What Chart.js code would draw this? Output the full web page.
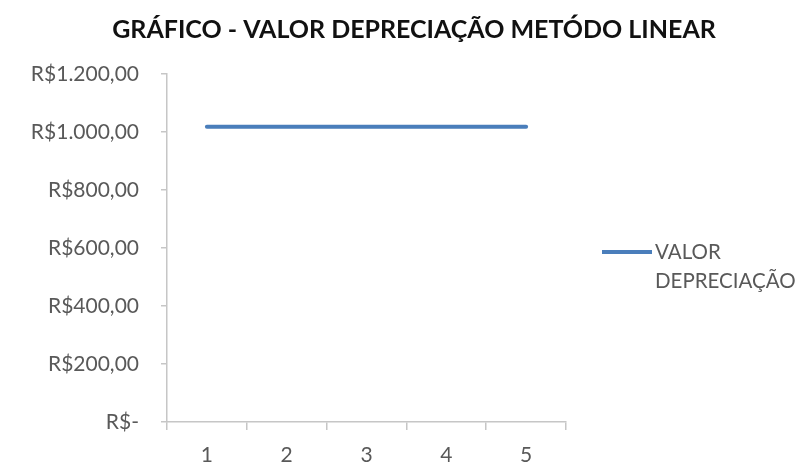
<!DOCTYPE html>
<html>
<head>
<meta charset="utf-8">
<script src="https://cdn.jsdelivr.net/npm/chart.js@4/dist/chart.umd.min.js"></script>
<style>
  html, body { margin: 0; padding: 0; background: #ffffff; }
  #wrap { width: 806px; height: 474px; }
</style>
</head>
<body>
<div id="wrap"><canvas id="c" width="806" height="474"></canvas></div>
<script>
// Periods of the straight-line schedule and the yearly depreciation amount
const periods = ['1', '2', '3', '4', '5'];
const depreciationValues = [1018, 1018, 1018, 1018, 1018];
const seriesLabel = ['VALOR', 'DEPRECIAÇÃO'];
const chartTitle = 'GRÁFICO - VALOR DEPRECIAÇÃO METÓDO LINEAR';

const LINE_COLOR = '#4a7ebb';
const AXIS_COLOR = '#c6c6c6';
const TEXT_COLOR = '#595959';
const FONT = 'Lato, "Open Sans", sans-serif';

// Brazilian currency style: R$1.200,00 and R$- for zero
function brl(v) {
  if (v === 0) return 'R$-';
  const parts = v.toFixed(2).split('.');
  const int = parts[0].replace(/\B(?=(\d{3})+(?!\d))/g, '.');
  return 'R$' + int + ',' + parts[1];
}

// Title centred across the whole canvas
const pageTitle = {
  id: 'pageTitle',
  afterDraw(chart) {
    const ctx = chart.ctx;
    ctx.save();
    ctx.fillStyle = '#111111';
    ctx.font = 'bold 25px ' + FONT;
    ctx.textAlign = 'center';
    ctx.textBaseline = 'middle';
    ctx.fillText(chartTitle, 414, 30);
    ctx.restore();
  }
};

// Legend at the right, with the label wrapped onto two lines
const sideLegend = {
  id: 'sideLegend',
  afterDraw(chart) {
    const ctx = chart.ctx;
    const area = chart.chartArea;
    const ds = chart.data.datasets[0];
    const x0 = area.right + 36;
    const y0 = 252;
    ctx.save();
    ctx.strokeStyle = ds.borderColor;
    ctx.lineWidth = 4;
    ctx.lineCap = 'butt';
    ctx.beginPath();
    ctx.moveTo(x0, y0);
    ctx.lineTo(x0 + 50, y0);
    ctx.stroke();
    ctx.fillStyle = TEXT_COLOR;
    ctx.font = '20.5px ' + FONT;
    ctx.textAlign = 'left';
    ctx.textBaseline = 'middle';
    seriesLabel.forEach((t, i) => ctx.fillText(t, x0 + 53, y0 + i * 29));
    ctx.restore();
  }
};

new Chart(document.getElementById('c'), {
  type: 'line',
  data: {
    labels: periods,
    datasets: [{
      label: seriesLabel.join(' '),
      data: depreciationValues,
      borderColor: LINE_COLOR,
      backgroundColor: LINE_COLOR,
      borderWidth: 4,
      borderCapStyle: 'round',
      pointRadius: 0,
      pointHoverRadius: 0,
      tension: 0,
      fill: false
    }]
  },
  options: {
    responsive: false,
    animation: false,
    devicePixelRatio: 1,
    layout: { padding: { left: 0, right: 240, top: 74, bottom: 0 } },
    plugins: {
      legend: { display: false },
      tooltip: { enabled: false },
      title: { display: false }
    },
    scales: {
      x: {
        offset: true,
        grid: {
          offset: true,
          drawOnChartArea: false,
          drawTicks: true,
          tickLength: 8,
          color: AXIS_COLOR,
          lineWidth: 1.5
        },
        border: { color: AXIS_COLOR, width: 1.5 },
        ticks: {
          color: TEXT_COLOR,
          font: { family: FONT, size: 21 },
          padding: 13,
          maxRotation: 0
        },
        afterFit(scale) { scale.height = 52; }
      },
      y: {
        min: 0,
        max: 1200,
        grid: {
          drawOnChartArea: false,
          drawTicks: true,
          tickLength: 6,
          color: AXIS_COLOR,
          lineWidth: 1.5
        },
        border: { color: AXIS_COLOR, width: 1.5 },
        ticks: {
          stepSize: 200,
          color: TEXT_COLOR,
          font: { family: FONT, size: 21 },
          padding: 22,
          callback: (v) => brl(v)
        },
        afterFit(scale) { scale.width = 167; }
      }
    }
  },
  plugins: [pageTitle, sideLegend]
});
</script>
</body>
</html>
